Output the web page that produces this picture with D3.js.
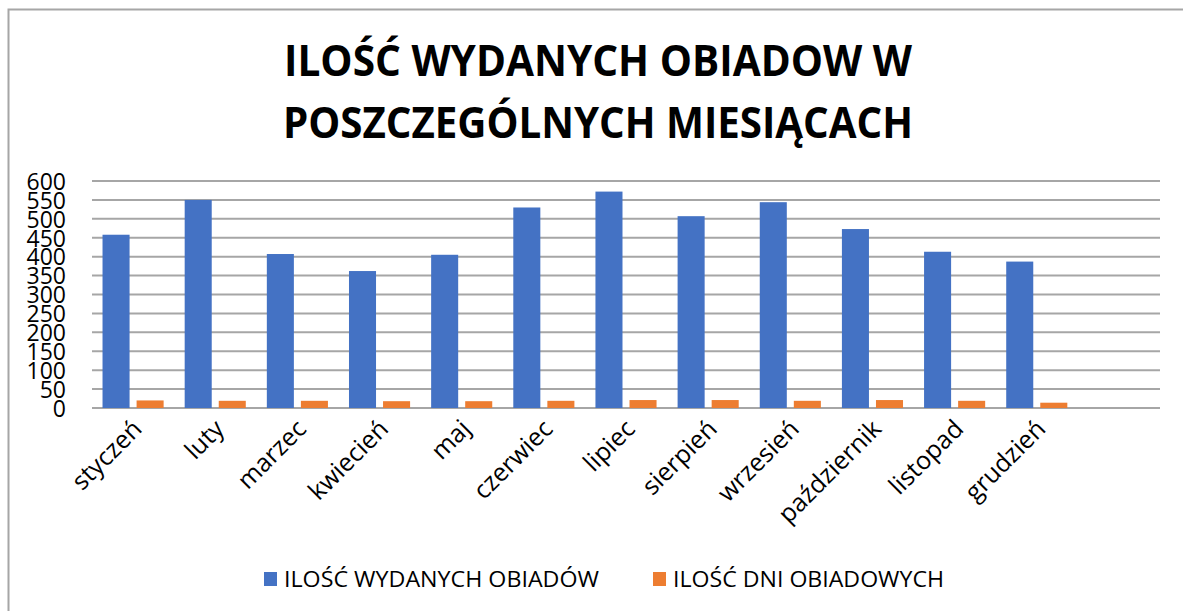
<!DOCTYPE html>
<html>
<head>
<meta charset="utf-8">
<script src="https://cdn.jsdelivr.net/npm/d3@7"></script>
<style>
  body { margin: 0; background: #fff; }
  text { font-family: "Open Sans", sans-serif; fill: #000; }
</style>
</head>
<body>
<div id="chart"></div>
<script>
// data
var months = ["styczeń", "luty", "marzec", "kwiecień", "maj", "czerwiec", "lipiec",
              "sierpień", "wrzesień", "październik", "listopad", "grudzień", ""];
var seriesNames = ["ILOŚĆ WYDANYCH OBIADÓW", "ILOŚĆ DNI OBIADOWYCH"];
var meals = [458, 550, 407, 362, 405, 530, 572, 507, 544, 473, 413, 387];
var days = [20, 19, 19, 18, 18, 19, 21, 21, 19, 21, 19, 14];
var yTicks = [0, 50, 100, 150, 200, 250, 300, 350, 400, 450, 500, 550, 600];
var colors = ["#4472C4", "#ED7D31"];

var w = 1183, h = 611;
var svg = d3.select("#chart").append("svg")
  .attr("width", w).attr("height", h);

// chart frame
svg.append("rect")
  .attr("x", 8.5).attr("y", 9.5)
  .attr("width", w).attr("height", h)
  .attr("fill", "none")
  .attr("stroke", "#a6a6a6")
  .attr("stroke-width", 2);

// title
var title = svg.append("text")
  .attr("text-anchor", "middle")
  .style("font-weight", "bold")
  .style("font-size", "43px");
title.append("tspan").attr("x", 598).attr("y", 76)
  .attr("textLength", 628).attr("lengthAdjust", "spacingAndGlyphs")
  .text("ILOŚĆ WYDANYCH OBIADOW W");
title.append("tspan").attr("x", 598).attr("y", 138)
  .attr("textLength", 630).attr("lengthAdjust", "spacingAndGlyphs")
  .text("POSZCZEGÓLNYCH MIESIĄCACH");

var x0 = d3.scaleBand().domain(months).range([92, 1160]).padding(0);
var x1 = d3.scaleBand().domain(seriesNames).range([0, x0.bandwidth()])
  .paddingInner(0.206).paddingOuter(0.309);
var y = d3.scaleLinear().domain([0, 600]).range([408, 181]);

// gridlines
svg.append("g")
  .selectAll("line")
  .data(yTicks)
  .enter()
  .append("line")
  .attr("x1", 92).attr("x2", 1160)
  .attr("y1", function(d) { return y(d); })
  .attr("y2", function(d) { return y(d); })
  .attr("stroke", "#a6a6a6")
  .attr("stroke-width", 2);

// y axis labels
var yAxis = d3.axisLeft(y).tickValues(yTicks).tickSize(0).tickPadding(0);
var gy = svg.append("g").attr("transform", "translate(66,0)").call(yAxis);
gy.select(".domain").remove();
gy.selectAll("text")
  .style("font-size", "23px")
  .attr("dy", "0.36em");

// bars
var rows = months.slice(0, 12).map(function(m, i) {
  return { month: m, vals: [meals[i], days[i]] };
});
var groups = svg.append("g").selectAll("g")
  .data(rows)
  .enter()
  .append("g")
  .attr("transform", function(d) { return "translate(" + x0(d.month) + ",0)"; });
groups.selectAll("rect")
  .data(function(d) { return d.vals.map(function(v, k) { return { name: seriesNames[k], v: v, k: k }; }); })
  .enter()
  .append("rect")
  .attr("x", function(d) { return x1(d.name); })
  .attr("y", function(d) { return y(d.v); })
  .attr("width", x1.bandwidth())
  .attr("height", function(d) { return y(0) - y(d.v); })
  .attr("fill", function(d) { return colors[d.k]; });

// x axis labels
var xAxis = d3.axisBottom(x0).tickSize(0).tickPadding(0);
var gx = svg.append("g").attr("transform", "translate(-2,418)").call(xAxis);
gx.select(".domain").remove();
gx.selectAll("text")
  .style("font-size", "25px")
  .attr("text-anchor", "end")
  .attr("dy", "0.7em")
  .attr("transform", "rotate(-45)");

// legend
var legendW = [315, 271];
var legend = svg.append("g").selectAll("g")
  .data(seriesNames)
  .enter()
  .append("g")
  .attr("transform", function(d, i) { return "translate(" + [264, 653][i] + ",572)"; });
legend.append("rect")
  .attr("width", 13).attr("height", 14)
  .attr("fill", function(d, i) { return colors[i]; });
legend.append("text")
  .attr("x", 20).attr("y", 15)
  .attr("textLength", function(d, i) { return legendW[i]; })
  .attr("lengthAdjust", "spacingAndGlyphs")
  .style("font-size", "22px")
  .text(function(d) { return d; });
</script>
</body>
</html>
